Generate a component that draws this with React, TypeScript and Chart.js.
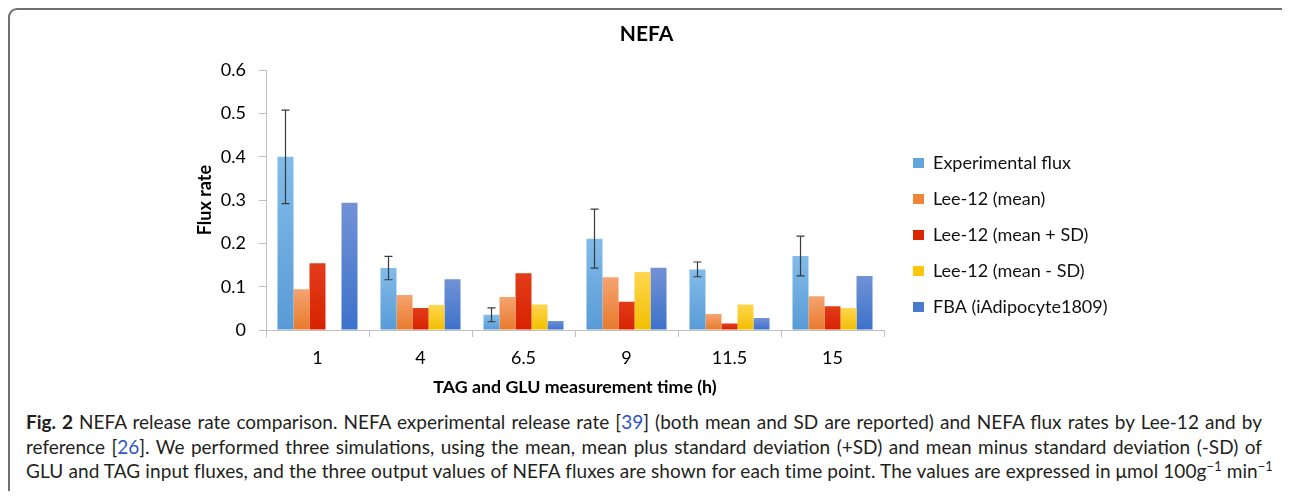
import React, { useEffect, useRef } from 'react';
import { Chart, registerables } from 'chart.js';

Chart.register(...registerables);

// ---------- data ----------
const categories = ['1', '4', '6.5', '9', '11.5', '15'];
const seriesNames = [
  'Experimental flux',
  'Lee-12 (mean)',
  'Lee-12 (mean + SD)',
  'Lee-12 (mean - SD)',
  'FBA (iAdipocyte1809)',
];
const experimentalFlux = [0.4, 0.143, 0.035, 0.211, 0.14, 0.171];
const experimentalSD = [0.108, 0.027, 0.016, 0.068, 0.017, 0.046];
const lee12Mean = [0.094, 0.081, 0.076, 0.122, 0.037, 0.078];
const lee12PlusSD = [0.154, 0.051, 0.131, 0.065, 0.015, 0.055];
const lee12MinusSD = [0, 0.058, 0.059, 0.134, 0.059, 0.051];
const fbaIAdipocyte = [0.294, 0.117, 0.021, 0.144, 0.028, 0.125];
const yTickValues = [0, 0.1, 0.2, 0.3, 0.4, 0.5, 0.6];

const chartTitle = 'NEFA';
const yAxisTitle = 'Flux rate';
const xAxisTitle = 'TAG and GLU measurement time (h)';

// ---------- styles ----------
const seriesColors = ['#62a5dd', '#ef8539', '#dc2400', '#fdc80c', '#4a7acc'];
const gradientTop = ['#82bcea', '#f5a470', '#e23c1a', '#ffd650', '#7292d6'];
const gradientBottom = ['#589bd6', '#e8792b', '#d82200', '#f2bf00', '#3c72cb'];
const FONT = 'Lato';

const errorBarPlugin = {
  id: 'errorBars',
  afterDatasetsDraw(chart: any) {
    const meta = chart.getDatasetMeta(0);
    const ys = chart.scales.y;
    const ctx = chart.ctx;
    ctx.save();
    ctx.strokeStyle = '#3a3a3a';
    ctx.lineWidth = 1.2;
    meta.data.forEach((bar: any, i: number) => {
      const m = experimentalFlux[i];
      const s = experimentalSD[i];
      const yt = ys.getPixelForValue(m + s);
      const yb = ys.getPixelForValue(m - s);
      const x = Math.round(bar.x) + 0.5;
      ctx.beginPath();
      ctx.moveTo(x, yt);
      ctx.lineTo(x, yb);
      ctx.moveTo(x - 4, yt);
      ctx.lineTo(x + 4, yt);
      ctx.moveTo(x - 4, yb);
      ctx.lineTo(x + 4, yb);
      ctx.stroke();
    });
    ctx.restore();
  },
};

export default function App() {
  const ref = useRef<HTMLCanvasElement>(null);

  useEffect(() => {
    document.documentElement.style.overflow = 'hidden';
    document.body.style.overflow = 'hidden';
    const canvas = ref.current!;
    const L = { padL: 183, padR: 188 };
    const seriesData = [experimentalFlux, lee12Mean, lee12PlusSD, lee12MinusSD, fbaIAdipocyte];

    const datasets = seriesNames.map((name, i) => ({
      label: name,
      data: seriesData[i],
      yAxisID: 'y',
      xAxisID: 'x',
      borderWidth: 0,
      categoryPercentage: 0.777,
      barPercentage: 1,
      backgroundColor: (c: any) => {
        const chart = c.chart;
        const area = chart.chartArea;
        if (!area || c.type !== 'data' || !chart.scales.y) return seriesColors[i];
        const ys = chart.scales.y;
        const top = ys.getPixelForValue(c.raw as number);
        const bottom = ys.getPixelForValue(0);
        if (!(bottom - top > 1)) return seriesColors[i];
        const g = chart.ctx.createLinearGradient(0, top, 0, bottom);
        g.addColorStop(0, gradientTop[i]);
        g.addColorStop(1, gradientBottom[i]);
        return g;
      },
    }));

    const chart: any = new Chart(canvas, {
      type: 'bar',
      data: { labels: categories, datasets },
      plugins: [errorBarPlugin],
      options: {
        animation: false,
        responsive: false,
        layout: { padding: { left: L.padL, right: L.padR, top: 0, bottom: 0 } },
        plugins: {
          tooltip: { enabled: false },
          title: {
            display: true,
            text: chartTitle,
            color: '#000',
            font: { family: FONT, size: 21, weight: 'bold' },
            padding: { top: 14, bottom: 23 },
          },
          legend: {
            display: true,
            position: 'right',
            align: 'center',
            maxWidth: 500,
            title: { display: true, text: '', font: { size: 10 }, padding: { top: 52, bottom: 0 } },
            labels: {
              font: { family: FONT, size: 18 },
              color: '#111',
              boxWidth: 11,
              boxHeight: 10,
              padding: 18,
              generateLabels: (ch: any) =>
                Chart.defaults.plugins.legend.labels.generateLabels(ch).map((l: any) => ({
                  ...l,
                  fillStyle: seriesColors[l.datasetIndex],
                  strokeStyle: seriesColors[l.datasetIndex],
                  lineWidth: 0,
                })),
            },
          },
        },
        scales: {
          x: {
            type: 'category',
            position: 'bottom',
            offset: true,
            grid: { offset: true, drawOnChartArea: false, drawTicks: true, tickLength: 7, color: '#c0c0c0' },
            border: { display: true, color: '#c0c0c0', width: 1 },
            ticks: { font: { family: FONT, size: 18 }, color: '#000', padding: 10 },
            title: {
              display: true,
              text: xAxisTitle,
              color: '#000',
              font: { family: FONT, size: 17.8, weight: 'bold' },
              padding: { top: 0, bottom: 0 },
            },
            afterFit: (s: any) => {
              s.height = 68;
            },
          },
          y: {
            type: 'linear',
            position: 'left',
            min: 0,
            max: 0.6,
            grid: { drawOnChartArea: false, drawTicks: true, tickLength: 7, color: '#c0c0c0' },
            border: { display: true, color: '#c0c0c0', width: 1 },
            ticks: { font: { family: FONT, size: 18 }, color: '#000', padding: 13 },
            afterBuildTicks: (s: any) => {
              s.ticks = yTickValues.map((v) => ({ value: v }));
            },
            title: {
              display: true,
              text: yAxisTitle,
              color: '#000',
              font: { family: FONT, size: 18, weight: 'bold' },
              padding: { top: 197.3 - L.padL - 10.8, bottom: 0 },
            },
            afterFit: (s: any) => {
              s.width = 258 - L.padL;
            },
          },
          spacer: {
            type: 'linear',
            position: 'right',
            display: true,
            grid: { display: false, drawTicks: false },
            border: { display: false },
            ticks: { display: false },
            afterFit: (s: any) => {
              s.width = 11;
            },
          },
        },
      } as any,
    });

    for (let k = 0; k < 2; k++) {
      const lw = chart.legend.width;
      L.padL = 390 - lw;
      L.padR = 395 - lw;
      chart.options.layout.padding = { left: L.padL, right: L.padR, top: 0, bottom: 0 };
      chart.options.scales.y.title.padding = { top: 197.3 - L.padL - 10.8, bottom: 0 };
      chart.update();
    }

    return () => chart.destroy();
  }, []);

  const justLine: React.CSSProperties = {
    width: 1236,
    textAlign: 'justify',
    textAlignLast: 'justify' as any,
    whiteSpace: 'nowrap',
  };
  const link: React.CSSProperties = { color: '#2f55c4' };
  const sup: React.CSSProperties = { fontSize: '0.68em', verticalAlign: 'super', lineHeight: 0 };

  return (
    <div style={{ position: 'relative', width: 1282, height: 483, overflow: 'hidden', background: '#fff' }}>
      <div
        style={{
          position: 'absolute',
          left: 0,
          top: 0,
          width: 1282,
          height: 483,
          borderTop: '2px solid #707070',
          borderLeft: '2px solid #707070',
          borderTopLeftRadius: 9,
          boxSizing: 'border-box',
        }}
      />
      <div style={{ position: 'absolute', left: 0, top: 0, width: 1282, height: 390 }}>
        <canvas ref={ref} width={1282} height={390} style={{ display: 'block' }} />
      </div>
      <div
        style={{
          position: 'absolute',
          left: 18,
          top: 402,
          fontFamily: FONT,
          fontSize: 19,
          lineHeight: '24.5px',
          color: '#231f20',
        }}
      >
        <div style={justLine}>
          <b>Fig. 2</b> NEFA release rate comparison. NEFA experimental release rate [<span style={link}>39</span>] (both
          mean and SD are reported) and NEFA flux rates by Lee-12 and by
        </div>
        <div style={justLine}>
          reference [<span style={link}>26</span>]. We performed three simulations, using the mean, mean plus standard
          deviation (+SD) and mean minus standard deviation (-SD) of
        </div>
        <div style={{ whiteSpace: 'nowrap', letterSpacing: '0.1px' }}>
          GLU and TAG input fluxes, and the three output values of NEFA fluxes are shown for each time point. The values
          are expressed in μmol 100g<sup style={sup}>−1</sup> min<sup style={sup}>−1</sup>
        </div>
      </div>
    </div>
  );
}
